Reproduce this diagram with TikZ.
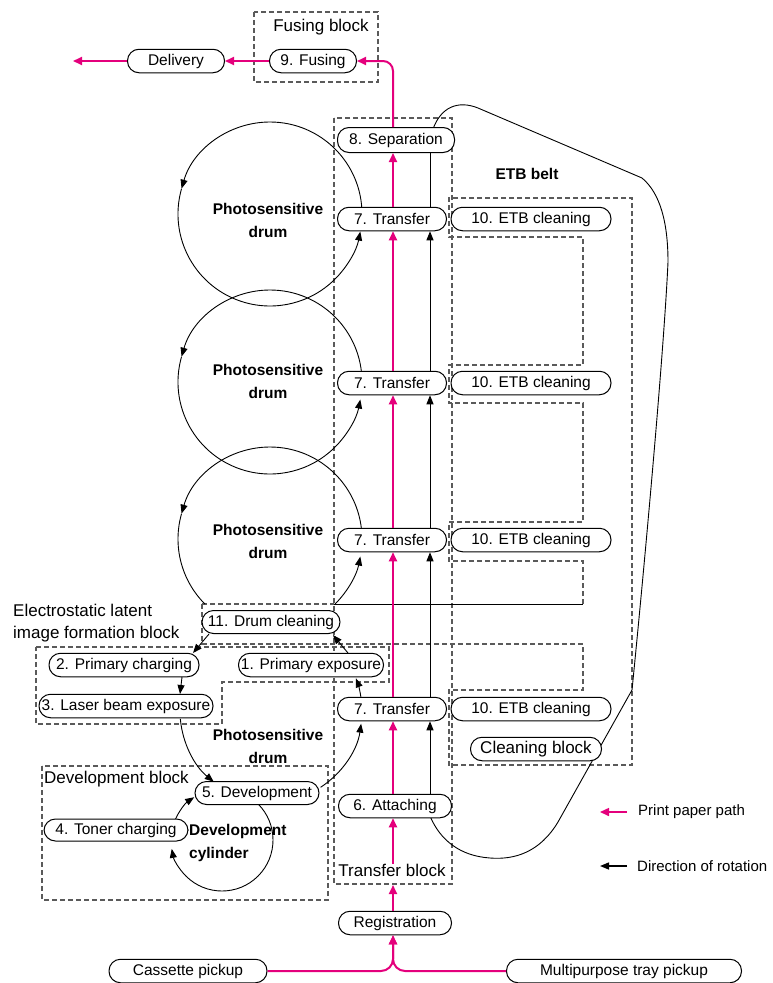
\documentclass[tikz,border=0pt]{standalone}
\usepackage{fontspec}
\setmainfont{Liberation Sans}
\usetikzlibrary{arrows.meta,calc}
\definecolor{pk}{RGB}{228,0,124}
\definecolor{dg}{RGB}{90,90,90}
\begin{document}
\begin{tikzpicture}[x=1pt,y=-1pt,
  pbox/.style={draw=black,line width=1pt,fill=white,rounded corners=11.5pt,minimum height=23.5pt,inner sep=0pt,font=\fontsize{15.5}{18}\selectfont},
  dashbox/.style={draw=dg,line width=1.1pt,dash pattern=on 5pt off 3pt},
  biglbl/.style={inner sep=0pt,font=\fontsize{17}{22}\selectfont},
  boldlbl/.style={inner sep=0pt,align=center,font=\fontsize{15.5}{23}\selectfont\bfseries},
  paperarrow/.style={draw=pk,line width=2pt,-{Triangle[length=9pt,width=8pt]}},
  rotarrow/.style={draw=black,line width=0.9pt,-{Triangle[length=9pt,width=7pt]}},
  thinline/.style={draw=black,line width=0.9pt},
]
\useasboundingbox (0,0) rectangle (772,983);

% ---------- dashed blocks ----------
\draw[dashbox] (254,12) rectangle (378,82);
\draw[dashbox] (334,118) rectangle (452,884);
\draw[dashbox] (36,647) -- (389,647) -- (389,682) -- (222,682) -- (222,724) -- (36,724) -- cycle;
\draw[dashbox] (42,766) rectangle (328,900);
\draw[dashbox] (202,604) -- (202,644) -- (583,644) -- (583,690) -- (449,690) -- (449,765) -- (632,765)
  -- (632,198) -- (449,198) -- (449,237) -- (583,237) -- (583,365) -- (449,365) -- (449,403)
  -- (583,403) -- (583,522) -- (449,522) -- (449,561) -- (583,561) -- (583,604);
\draw[dashbox] (202,604) -- (334,604);
\draw[thinline,line width=0.8pt] (334,604) -- (583,604);

% ---------- drums ----------
\coordinate (d1) at (270,214);
\coordinate (d2) at (270,382);
\coordinate (d3) at (270,539);
\coordinate (d4) at (271,711);
\coordinate (cyl) at (222,840);
\foreach \d in {d1,d2}{
  \draw[rotarrow] (\d) ++(0:92) arc[start angle=0,end angle=-164,radius=92];
  \draw[rotarrow] (\d) ++(196:92) arc[start angle=196,end angle=11,radius=92];
}
\draw[rotarrow] (d3) ++(0:92) arc[start angle=0,end angle=-164,radius=92];
\draw[thinline] (d3) ++(196:92) arc[start angle=196,end angle=135,radius=92];
\draw[rotarrow] (d3) ++(45:92) arc[start angle=45,end angle=11,radius=92];
\draw[rotarrow] (d4) ++(175:91) arc[start angle=175,end angle=129,radius=91];
\draw[rotarrow] (d4) ++(57:91) arc[start angle=57,end angle=8,radius=91];
\draw[rotarrow] (d4) ++(-9:91) arc[start angle=-9,end angle=-21,radius=91];
\draw[rotarrow] (cyl) ++(315:51) arc[start angle=315,end angle=530,radius=51];
\draw[rotarrow] (cyl) ++(204:51) arc[start angle=204,end angle=237,radius=51];

% ---------- ETB belt ----------
\draw[thinline] (433,129) .. controls (441,107) and (458,100) .. (478,108) -- (642,178)
  .. controls (660,193) and (668,222) .. (668,262)
  .. controls (664,350) and (645,560) .. (632,690) -- (558,822)
  .. controls (540,852) and (515,860) .. (490,858)
  .. controls (460,856) and (440,840) .. (430,816);

% ---------- nodes ----------
\node[pbox,minimum width=97pt] (deliv) at (176,61) {Delivery};
\node[pbox,minimum width=87pt] (fus) at (313,61) {9. Fusing};
\node[pbox,minimum width=117pt,minimum height=25pt] (sep) at (396,140) {8. Separation};
\node[pbox,minimum width=109pt] (t1) at (392,219) {7. Transfer};
\node[pbox,minimum width=109pt] (t2) at (392,383) {7. Transfer};
\node[pbox,minimum width=109pt] (t3) at (392,540) {7. Transfer};
\node[pbox,minimum width=109pt] (t4) at (392,709) {7. Transfer};
\node[pbox,minimum width=160pt] (e1) at (531,219) {10. ETB cleaning};
\node[pbox,minimum width=160pt] (e2) at (531,383) {10. ETB cleaning};
\node[pbox,minimum width=160pt] (e3) at (531,540) {10. ETB cleaning};
\node[pbox,minimum width=160pt] (e4) at (531,709) {10. ETB cleaning};
\node[pbox,minimum width=113pt] (att) at (395,806) {6. Attaching};
\node[pbox,minimum width=113pt] (reg) at (395,923) {Registration};
\node[pbox,minimum width=158pt] (cas) at (188,971) {Cassette pickup};
\node[pbox,minimum width=235pt] (mpt) at (624,971) {Multipurpose tray pickup};
\node[pbox,minimum width=138pt,minimum height=23pt] (dc) at (271,622) {11. Drum cleaning};
\node[pbox,minimum width=150pt] (pc) at (124,665) {2. Primary charging};
\node[pbox,minimum width=145pt] (pe) at (311,665) {1. Primary exposure};
\node[pbox,minimum width=174pt] (lb) at (126,706) {3. Laser beam exposure};
\node[pbox,minimum width=124pt,minimum height=23pt] (dev) at (257,793) {5. Development};
\node[pbox,minimum width=144pt,minimum height=22pt] (tc) at (116,830) {4. Toner charging};
\node[pbox,minimum width=131pt,font=\fontsize{17}{20}\selectfont] (cb) at (536,749) {Cleaning block};

% ---------- labels ----------
\node[biglbl] (fbl) at (321,27) {Fusing block};
\node[biglbl] (tbl) at (392,870) {Transfer block};
\node[biglbl,anchor=west] (dbl) at (44,779) {Development block};
\node[biglbl,anchor=west,align=left] (ebl) at (13,623) {Electrostatic latent\\image formation block};
\node[boldlbl] (etb) at (527,174) {ETB belt};
\node[boldlbl] (pd1) at (268,220) {Photosensitive\\drum};
\node[boldlbl] (pd2) at (268,381) {Photosensitive\\drum};
\node[boldlbl] (pd3) at (268,541) {Photosensitive\\drum};
\node[boldlbl] (pd4) at (268,746) {Photosensitive\\drum};
\node[boldlbl,anchor=west,align=left] (dcy) at (189,843) {Development\\cylinder};
\node[anchor=west,inner sep=0pt,font=\fontsize{15}{18}\selectfont] (lg1) at (638,812) {Print paper path};
\node[anchor=west,inner sep=0pt,font=\fontsize{15}{18}\selectfont] (lg2) at (637,866) {Direction of rotation};

% ---------- coordinates ----------
\coordinate (px) at (393,0);
\coordinate (bx) at (430,0);
\coordinate (dend) at (73,61);
\coordinate (tbb) at (393,885);
\coordinate (a11s) at (209,634);
\coordinate (a2n) at (193,653);
\coordinate (a2s) at (182,677);
\coordinate (a3n) at (180,694);
\coordinate (a1n) at (348,653);
\coordinate (a11e) at (333,635);
\coordinate (lg1a) at (627,812);
\coordinate (lg1b) at (600,812);
\coordinate (lg2a) at (627,866);
\coordinate (lg2b) at (600,866);
\coordinate (jn) at (393,971);

% ---------- paper path ----------
\draw[paperarrow] (fus.west) -- (deliv.east);
\draw[paperarrow] (deliv.west) -- (dend);
\draw[paperarrow,rounded corners=10pt] (sep.north -| px) |- (fus.east);
\draw[paperarrow] (t1.north -| px) -- (sep.south -| px);
\draw[paperarrow] (t2.north -| px) -- (t1.south -| px);
\draw[paperarrow] (t3.north -| px) -- (t2.south -| px);
\draw[paperarrow] (t4.north -| px) -- (t3.south -| px);
\draw[paperarrow] (att.north -| px) -- (t4.south -| px);
\draw[paperarrow] (tbl.north -| px) -- (att.south -| px);
\draw[paperarrow] (reg.north -| px) -- (tbb);
\draw[paperarrow,rounded corners=12pt] (cas.east) -- (jn) -- (reg.south -| px);
\draw[paperarrow,rounded corners=12pt] (mpt.west) -- (jn) -- (reg.south -| px);

% ---------- rotation (belt side) ----------
\draw[rotarrow] (att.north -| bx) -- (t4.south -| bx);
\draw[rotarrow] (t4.north -| bx) -- (t3.south -| bx);
\draw[rotarrow] (t3.north -| bx) -- (t2.south -| bx);
\draw[rotarrow] (t2.north -| bx) -- (t1.south -| bx);
\draw[thinline] (t1.north -| bx) -- (sep.south -| bx);

% ---------- drum 4 short arrows ----------
\draw[rotarrow] (a11s) -- (a2n);
\draw[rotarrow] (a2s) -- (a3n);
\draw[rotarrow] (a1n) -- (a11e);

% ---------- legend ----------
\draw[paperarrow,line width=1.5pt] (lg1a) -- (lg1b);
\draw[rotarrow,line width=1.5pt] (lg2a) -- (lg2b);
\end{tikzpicture}
\end{document}
